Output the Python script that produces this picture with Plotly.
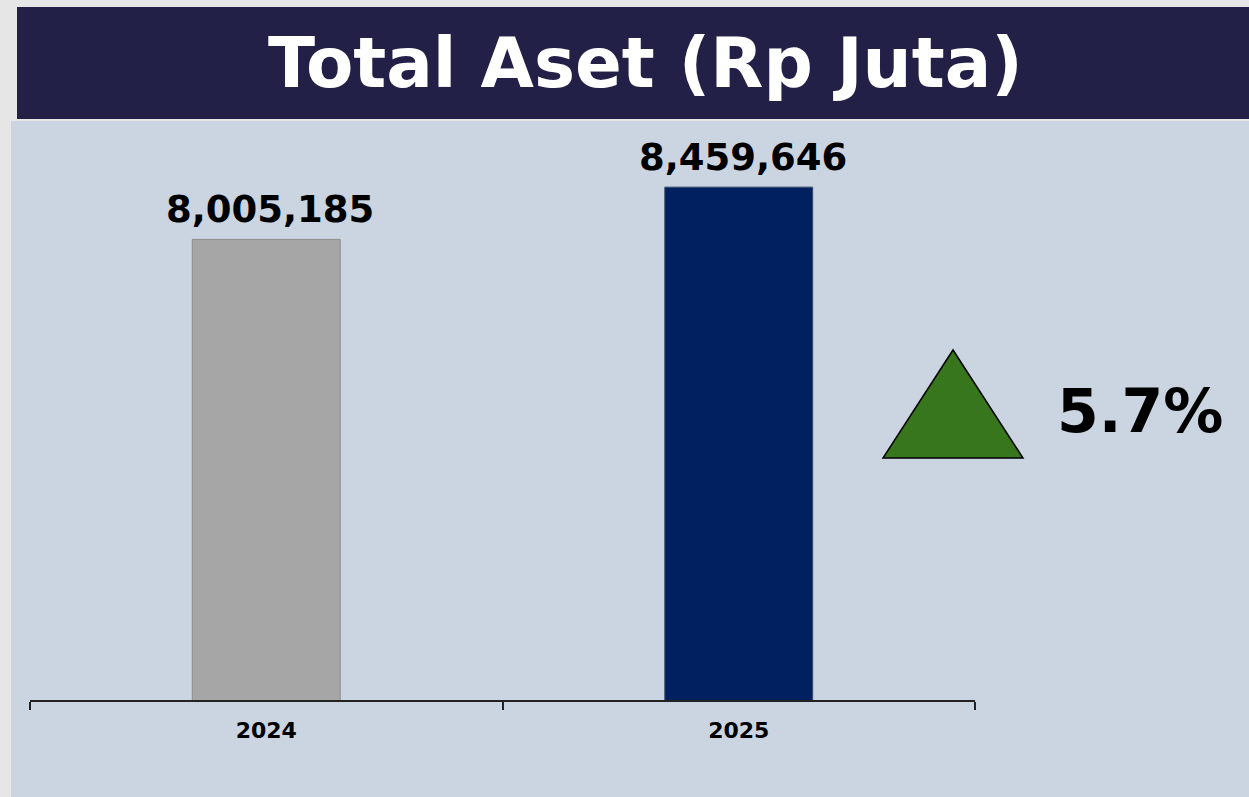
import plotly.graph_objects as go

categories = ["2024", "2025"]
values = [8005185, 8459646]
bar_colors = ["#a6a6a6", "#002060"]
bar_lines = ["#8c8c8c", "#3a4a6a"]
title_text = "Total Aset (Rp Juta)"
growth_text = "5.7%"

W, H = 1249, 797
L, R, T, B = 30, 975, 125, 700  # plot area in pixels


def px(x):
    return (x - L) / (R - L)


def py(y):
    return (B - y) / (B - T)


fig = go.Figure()
fig.add_trace(go.Bar(
    x=categories,
    y=values,
    marker=dict(color=bar_colors, line=dict(color=bar_lines, width=1)),
    hoverinfo="skip",
))

shapes = [
    # light panel
    dict(type="rect", xref="paper", yref="paper", layer="below",
         x0=px(11), x1=px(1252), y0=py(121), y1=py(800),
         fillcolor="#cbd5e1", line=dict(width=0)),
    # header band
    dict(type="rect", xref="paper", yref="paper", layer="below",
         x0=px(17), x1=px(1252), y0=py(119), y1=py(7),
         fillcolor="#232048", line=dict(width=0)),
    # growth triangle
    dict(type="path", xref="paper", yref="paper", layer="above",
         path=f"M {px(883)} {py(458)} L {px(1023)} {py(458)} L {px(953)} {py(350)} Z",
         fillcolor="#38761d", line=dict(color="#000000", width=1.5)),
]

annotations = [
    dict(text=title_text, xref="paper", yref="paper", x=px(645), y=py(63),
         xanchor="center", yanchor="middle", showarrow=False,
         font=dict(family="DejaVu Sans", size=69, color="#ffffff", weight="bold")),
    dict(text=growth_text, xref="paper", yref="paper", x=px(1140), y=py(411),
         xanchor="center", yanchor="middle", showarrow=False,
         font=dict(family="DejaVu Sans", size=60, color="#000000", weight="bold")),
]
for i, v in enumerate(values):
    annotations.append(dict(
        text=f"{v:,.0f}", x=i, y=v, xref="x", yref="y",
        xanchor="center", yanchor="bottom", showarrow=False, yshift=6, xshift=4,
        font=dict(family="DejaVu Sans", size=37, color="#000000", weight="bold"),
    ))

fig.update_layout(
    width=W, height=H,
    margin=dict(l=L, r=W - R, t=T, b=H - B, pad=0),
    paper_bgcolor="#e6e6e6",
    plot_bgcolor="rgba(0,0,0,0)",
    showlegend=False,
    bargap=0.687,
    shapes=shapes,
    annotations=annotations,
    xaxis=dict(
        type="category",
        range=[-0.5, len(categories) - 0.5],
        showline=True, linecolor="#222222", linewidth=1.5,
        ticks="outside", tickson="boundaries", ticklen=8, tickwidth=1.5, tickcolor="#222222",
        tickfont=dict(family="DejaVu Sans", size=22, color="#000000", weight="bold"),
        showgrid=False, zeroline=False,
        ticklabelstandoff=10,
    ),
    yaxis=dict(
        range=[4000000, 9000000],
        visible=False, showgrid=False, zeroline=False,
    ),
)

fig.write_html("out.html", config={"displayModeBar": False},
               post_script="document.body.style.margin='0';document.body.style.padding='0';")
